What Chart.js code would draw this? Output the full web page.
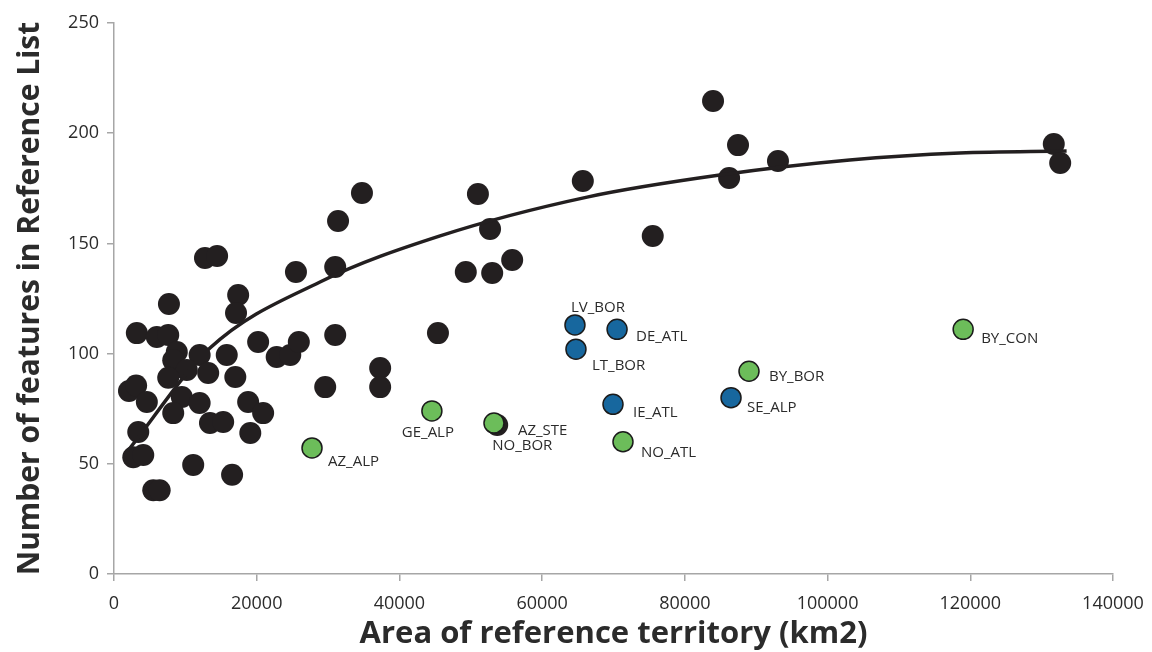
<!DOCTYPE html>
<html>
<head>
<meta charset="utf-8">
<title>Reference list size vs territory area</title>
<script src="https://cdn.jsdelivr.net/npm/chart.js@4/dist/chart.umd.min.js"></script>
<style>
    html, body { margin: 0; padding: 0; background: #fff; }
    #chart { display: block; }
</style>
</head>
<body>
<canvas id="chart" width="1152" height="652"></canvas>
<script>
// Territories without a label (black dots)
const blackX = [7700, 17400, 17100, 3200, 6000, 7600, 8800, 12000, 8300, 15800,
    20200, 22800, 24700, 25900, 10200, 13200, 17000, 7600, 2100, 3100,
    4600, 9500, 8300, 12000, 13450, 15300, 18800, 20900, 19100, 3400,
    2700, 4100, 11100, 16550, 5500, 6400, 12750, 14450, 34750, 31400,
    31000, 25500, 31000, 45400, 29600, 37300, 37300, 51000, 65700, 52700,
    49300, 53000, 55800, 75500, 83950, 87450, 86200, 93050, 131700, 132600];
const blackY = [122.5, 126.6, 118.4, 109.3, 107.5, 108.4, 100.7, 99.4, 97, 99.4,
    105.3, 98.5, 99.4, 105.3, 92.6, 91.2, 89.4, 89, 83, 85.5,
    78, 80.3, 73, 77.6, 68.5, 69, 78, 73, 64, 64.4,
    53, 54, 49.5, 45, 38, 38, 143.4, 144.3, 172.9, 160.2,
    139.3, 137, 108.4, 109.3, 84.8, 93.5, 84.8, 172.4, 178.3, 156.5,
    137, 136.6, 142.5, 153.4, 214.6, 194.6, 179.7, 187.4, 195.1, 186.5];

// Labelled black dot hidden behind AZ_STE
const noBorX = [53700];
const noBorY = [67.6];
const noBorLabels = ['NO_BOR'];

// Green territories
const greenLabels = ['AZ_ALP', 'GE_ALP', 'AZ_STE', 'NO_ATL', 'BY_BOR', 'BY_CON'];
const greenX = [27750, 44550, 53250, 71330, 88990, 119000];
const greenY = [57.2, 74, 68.5, 60, 92, 111];

// Blue territories
const blueLabels = ['LV_BOR', 'DE_ATL', 'LT_BOR', 'IE_ATL', 'SE_ALP'];
const blueX = [64600, 70500, 64740, 69930, 86470];
const blueY = [113, 111, 102, 77, 80];

// Trend curve
const trendX = [1960, 13450, 28870, 45700, 66300, 84900, 103100, 118500, 133500];
const trendY = [56, 102.5, 132.5, 153.4, 171, 181, 187.8, 191, 191.9];

// Axis ticks
const xTicks = [0, 20000, 40000, 60000, 80000, 100000, 120000, 140000];
const yTicks = [0, 50, 100, 150, 200, 250];

function toPoints(xs, ys) {
    return xs.map((x, i) => ({ x: x, y: ys[i] }));
}

// where each label sits relative to its dot (px)
const labelOffsets = {
    'NO_BOR': [-5, 21, 'left'],
    'AZ_ALP': [16, 14, 'left'],
    'GE_ALP': [-4, 22, 'center'],
    'AZ_STE': [24, 8, 'left'],
    'NO_ATL': [18, 11, 'left'],
    'BY_BOR': [20, 6, 'left'],
    'BY_CON': [18, 9, 'left'],
    'LV_BOR': [-4, -17, 'left'],
    'DE_ATL': [19, 7, 'left'],
    'LT_BOR': [16, 17, 'left'],
    'IE_ATL': [20, 8, 'left'],
    'SE_ALP': [16, 10, 'left']
};

const pointLabels = {
    id: 'pointLabels',
    afterDatasetsDraw(chart) {
        const ctx = chart.ctx;
        ctx.save();
        ctx.font = '15px "Open Sans", sans-serif';
        ctx.fillStyle = '#2b2b2b';
        ctx.textBaseline = 'middle';
        chart.data.datasets.forEach((ds, di) => {
            if (!ds.labels) return;
            const meta = chart.getDatasetMeta(di);
            meta.data.forEach((pt, i) => {
                const name = ds.labels[i];
                const off = labelOffsets[name] || [14, 10, 'left'];
                ctx.textAlign = off[2];
                ctx.fillText(name, pt.x + off[0], pt.y + off[1]);
            });
        });
        ctx.restore();
    }
};

const ink = '#231f20';
const axisGrey = '#a6a6a6';

new Chart(document.getElementById('chart').getContext('2d'), {
    type: 'scatter',
    data: {
        datasets: [
            {
                label: 'blue',
                data: toPoints(blueX, blueY),
                labels: blueLabels,
                backgroundColor: '#17679e',
                borderColor: '#1b1b1b',
                borderWidth: 1.5,
                pointRadius: 10,
                order: 1
            },
            {
                label: 'green',
                data: toPoints(greenX, greenY),
                labels: greenLabels,
                backgroundColor: '#6cbd5a',
                borderColor: '#1b1b1b',
                borderWidth: 1.5,
                pointRadius: 10,
                order: 2
            },
            {
                label: 'trend',
                type: 'line',
                data: toPoints(trendX, trendY),
                borderColor: ink,
                borderWidth: 3.5,
                pointRadius: 0,
                fill: false,
                cubicInterpolationMode: 'monotone',
                order: 3
            },
            {
                label: 'noBor',
                data: toPoints(noBorX, noBorY),
                labels: noBorLabels,
                backgroundColor: ink,
                borderWidth: 0,
                pointRadius: 11,
                order: 4
            },
            {
                label: 'other',
                data: toPoints(blackX, blackY),
                backgroundColor: ink,
                borderWidth: 0,
                pointRadius: 11,
                order: 5
            }
        ]
    },
    options: {
        responsive: false,
        animation: false,
        layout: { padding: { left: 0, right: 39, top: 23, bottom: 0 } },
        plugins: {
            legend: { display: false },
            tooltip: { enabled: false }
        },
        scales: {
            x: {
                type: 'linear',
                min: 0,
                max: 140000,
                afterBuildTicks: axis => { axis.ticks = xTicks.map(v => ({ value: v })); },
                afterFit: axis => {
                    axis.height = 78;
                    axis.paddingLeft = 0;
                    axis.paddingRight = 0;
                },
                border: { color: axisGrey, width: 1.5 },
                grid: { drawOnChartArea: false, drawTicks: true, tickLength: 7, color: axisGrey, lineWidth: 1.5 },
                ticks: {
                    color: '#2b2b2b',
                    padding: 12,
                    font: { family: '"Open Sans", sans-serif', size: 18 },
                    maxRotation: 0,
                    callback: v => String(v)
                },
                title: {
                    display: true,
                    text: 'Area of reference territory (km2)',
                    color: '#2b2b2b',
                    font: { family: '"Open Sans", sans-serif', size: 31, weight: 'bold', lineHeight: 1 },
                    padding: { top: 0, bottom: 2 }
                }
            },
            y: {
                type: 'linear',
                min: 0,
                max: 250,
                afterBuildTicks: axis => { axis.ticks = yTicks.map(v => ({ value: v })); },
                afterFit: axis => {
                    axis.width = 114;
                    axis.paddingTop = 0;
                    axis.paddingBottom = 0;
                },
                border: { color: axisGrey, width: 1.5 },
                grid: { drawOnChartArea: false, drawTicks: true, tickLength: 7, color: axisGrey, lineWidth: 1.5 },
                ticks: {
                    color: '#2b2b2b',
                    padding: 8,
                    font: { family: '"Open Sans", sans-serif', size: 18 }
                },
                title: {
                    display: true,
                    text: 'Number of features in Reference List',
                    color: '#2b2b2b',
                    font: { family: '"Open Sans", sans-serif', size: 30, weight: 'bold', lineHeight: 1 },
                    padding: { top: 15, bottom: 0 }
                }
            }
        }
    },
    plugins: [pointLabels]
});
</script>
</body>
</html>
